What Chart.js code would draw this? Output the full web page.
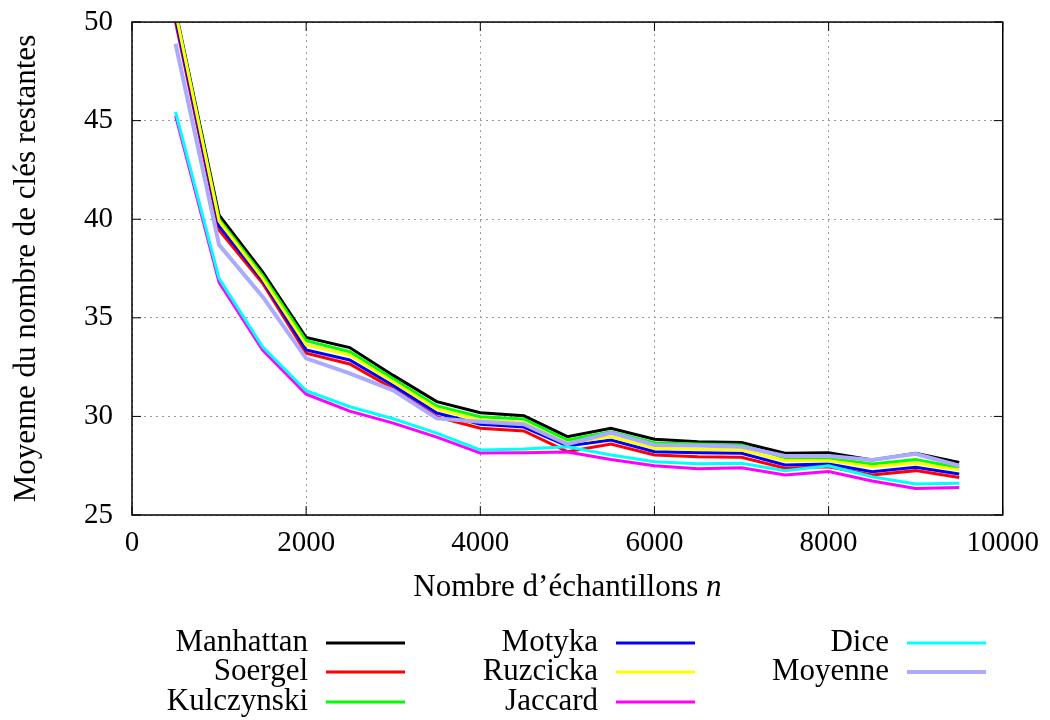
<!DOCTYPE html>
<html>
<head>
<meta charset="utf-8">
<script src="https://cdn.jsdelivr.net/npm/chart.js@4"></script>
<style>
  html, body { margin: 0; padding: 0; background: #ffffff; }
  #wrap { width: 1050px; height: 720px; }
</style>
</head>
<body>
<div id="wrap"><canvas id="chart" width="1050" height="720"></canvas></div>
<script>
const samples = [500, 1000, 1500, 2000, 2500, 3000, 3500, 4000, 4500, 5000,
  5500, 6000, 6500, 7000, 7500, 8000, 8500, 9000, 9500];

const manhattan = [50.6, 40.2, 37.33, 34.0, 33.49, 32.08, 30.75, 30.19, 30.03, 28.97,
  29.4, 28.84, 28.72, 28.68, 28.13, 28.16, 27.79, 28.13, 27.67];
const soergel = [50.0, 39.45, 36.75, 33.2, 32.66, 31.4, 29.98, 29.4, 29.26, 28.21,
  28.6, 28.04, 27.96, 27.93, 27.37, 27.45, 27.03, 27.25, 26.9];
const kulczynski = [50.5, 40.0, 37.15, 33.84, 33.28, 31.91, 30.53, 29.98, 29.87, 28.8,
  29.22, 28.67, 28.6, 28.55, 27.9, 27.88, 27.59, 27.82, 27.4];
const motyka = [50.2, 39.65, 36.9, 33.37, 32.86, 31.57, 30.17, 29.6, 29.46, 28.5,
  28.8, 28.21, 28.16, 28.13, 27.54, 27.59, 27.2, 27.42, 27.08];
const ruzcicka = [50.5, 39.9, 37.0, 33.62, 33.11, 31.74, 30.37, 29.8, 29.68, 28.65,
  28.97, 28.38, 28.33, 28.3, 27.75, 27.75, 27.45, 27.62, 27.28];
const jaccard = [45.25, 36.8, 33.36, 31.13, 30.27, 29.66, 28.95, 28.14, 28.16, 28.2,
  27.82, 27.5, 27.35, 27.4, 27.03, 27.2, 26.72, 26.35, 26.39];
const dice = [45.45, 37.0, 33.53, 31.3, 30.49, 29.88, 29.15, 28.3, 28.35, 28.46,
  28.04, 27.7, 27.6, 27.62, 27.25, 27.5, 26.94, 26.57, 26.61];
const moyenne = [48.9, 38.7, 36.07, 32.94, 32.18, 31.32, 29.9, 29.73, 29.6, 28.6,
  29.17, 28.55, 28.52, 28.46, 27.99, 27.99, 27.79, 28.1, 27.5];

const seriesNames = ["Manhattan", "Soergel", "Kulczynski", "Motyka",
  "Ruzcicka", "Jaccard", "Dice", "Moyenne"];
const seriesValues = [manhattan, soergel, kulczynski, motyka,
  ruzcicka, jaccard, dice, moyenne];
const seriesColors = ["#000000", "#ff0000", "#00ff00", "#0000ff",
  "#ffff00", "#ff00ff", "#00ffff", "#aaaaff"];

const xTicks = [0, 2000, 4000, 6000, 8000, 10000];
const yTicks = [25, 30, 35, 40, 45, 50];

const serif = "'Liberation Serif', 'DejaVu Serif', serif";

const datasets = seriesNames.map((name, i) => ({
  label: name,
  data: samples.map((x, j) => ({ x, y: seriesValues[i][j] })),
  borderColor: seriesColors[i],
  backgroundColor: seriesColors[i],
  borderWidth: name === "Moyenne" ? 4 : 3,
  pointRadius: 0,
  tension: 0,
  clip: 0,
  order: seriesNames.length - i
}));

// gnuplot-like frame with inward ticks
const framePlugin = {
  id: "frame",
  afterDatasetsDraw(chart) {
    const { ctx, chartArea: a, scales } = chart;
    ctx.save();
    ctx.strokeStyle = "#000";
    ctx.lineWidth = 1.5;
    ctx.strokeRect(a.left, a.top, a.right - a.left, a.bottom - a.top);
    ctx.lineWidth = 1;
    ctx.beginPath();
    xTicks.forEach((v) => {
      const px = scales.x.getPixelForValue(v);
      ctx.moveTo(px, a.bottom); ctx.lineTo(px, a.bottom - 9);
      ctx.moveTo(px, a.top); ctx.lineTo(px, a.top + 9);
    });
    yTicks.forEach((v) => {
      const py = scales.y.getPixelForValue(v);
      ctx.moveTo(a.left, py); ctx.lineTo(a.left + 9, py);
      ctx.moveTo(a.right, py); ctx.lineTo(a.right - 9, py);
    });
    ctx.stroke();

    // x axis title with italic n
    const main = "Nombre d’échantillons ";
    ctx.font = "31px " + serif;
    const w1 = ctx.measureText(main).width;
    ctx.font = "italic 31px " + serif;
    const w2 = ctx.measureText("n").width;
    const cx = (a.left + a.right) / 2;
    const x0 = cx - (w1 + w2) / 2;
    ctx.fillStyle = "#000";
    ctx.textAlign = "left";
    ctx.textBaseline = "middle";
    ctx.font = "31px " + serif;
    ctx.fillText(main, x0, 588);
    ctx.font = "italic 31px " + serif;
    ctx.fillText("n", x0 + w1, 588);
    ctx.restore();
  }
};

// legend: text right-aligned, line sample on its right, three columns
const legendPlugin = {
  id: "sideLegend",
  afterDraw(chart) {
    const { ctx } = chart;
    const textRight = [308, 598, 889];
    const rowY = [643, 672, 702];
    ctx.save();
    ctx.font = "31px " + serif;
    ctx.textAlign = "right";
    ctx.textBaseline = "middle";
    chart.data.datasets.forEach((ds, i) => {
      const col = Math.floor(i / 3);
      const row = i % 3;
      const x = textRight[col];
      const y = rowY[row];
      ctx.fillStyle = "#000";
      ctx.fillText(ds.label, x, y);
      ctx.strokeStyle = ds.borderColor;
      ctx.lineWidth = ds.borderWidth;
      ctx.beginPath();
      ctx.moveTo(x + 18, y);
      ctx.lineTo(x + 97, y);
      ctx.stroke();
    });
    ctx.restore();
  }
};

new Chart(document.getElementById("chart"), {
  type: "line",
  data: { datasets },
  options: {
    responsive: false,
    animation: false,
    layout: { padding: { top: 0, right: 45, bottom: 110, left: 0 } },
    plugins: {
      legend: { display: false },
      tooltip: { enabled: false }
    },
    scales: {
      x: {
        type: "linear",
        min: 0,
        max: 10000,
        afterBuildTicks(scale) {
          scale.ticks = xTicks.map((v) => ({ value: v }));
        },
        afterFit(scale) { scale.height = 95; },
        grid: { color: "#999", lineWidth: 1, drawTicks: false },
        border: { display: false, dash: [2, 4] },
        ticks: {
          color: "#000",
          padding: 11,
          maxRotation: 0,
          font: { family: serif, size: 29 },
          callback: (v) => String(v)
        }
      },
      y: {
        min: 25,
        max: 50,
        afterBuildTicks(scale) {
          scale.ticks = yTicks.map((v) => ({ value: v }));
        },
        afterFit(scale) { scale.width = 132; },
        grid: { color: "#999", lineWidth: 1, drawTicks: false },
        border: { display: false, dash: [2, 4] },
        ticks: {
          color: "#000",
          padding: 19,
          font: { family: serif, size: 29, lineHeight: 0.21 },
          callback: (v) => String(v)
        },
        title: {
          display: true,
          text: "Moyenne du nombre de clés restantes",
          color: "#000",
          font: { family: serif, size: 31 },
          padding: { top: 8, bottom: 0 }
        }
      }
    }
  },
  plugins: [framePlugin, legendPlugin]
});
</script>
</body>
</html>
